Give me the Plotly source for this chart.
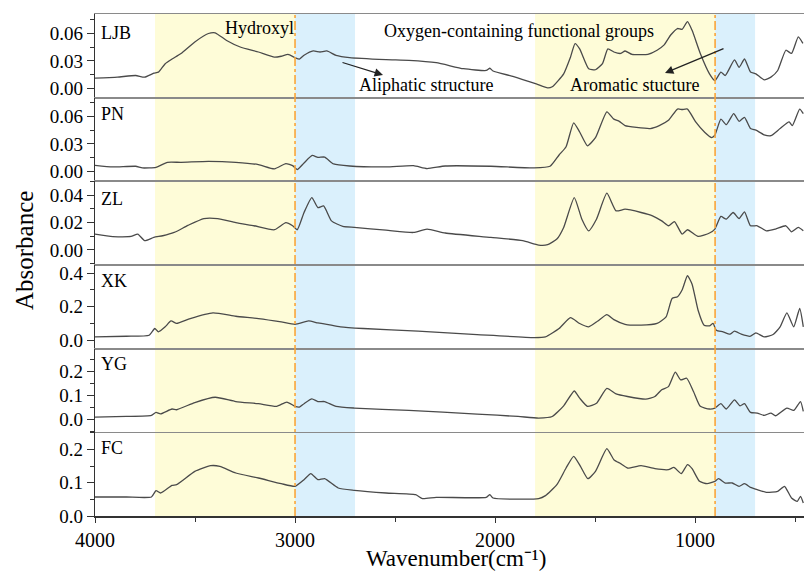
import plotly.graph_objects as go
from plotly.subplots import make_subplots

samples = ["LJB", "PN", "ZL", "XK", "YG", "FC"]

wn_LJB = [4002, 3888, 3797, 3752, 3706, 3683, 3649, 3615, 3570, 3501, 3433, 3399, 3342, 3274, 3183, 3103, 3069, 3035,
          3000, 2978, 2955, 2909, 2875, 2841, 2795, 2727, 2545, 2431, 2294, 2158, 2044, 2026, 2010, 1907, 1794, 1737,
          1714, 1657, 1623, 1600, 1577, 1532, 1498, 1463, 1436, 1406, 1372, 1350, 1315, 1270, 1236, 1190, 1156, 1122,
          1088, 1065, 1038, 1015, 974, 928, 901, 871, 849, 803, 780, 753, 723, 696, 655, 621, 587, 546, 518, 484, 461]
abs_LJB = [0.0113, 0.0124, 0.0142, 0.0124, 0.0167, 0.0178, 0.027, 0.032, 0.038, 0.0505, 0.0596, 0.0604, 0.052, 0.045,
           0.0396, 0.034, 0.035, 0.037, 0.0335, 0.032, 0.036, 0.0407, 0.0396, 0.0407, 0.036, 0.0335, 0.0313, 0.0305,
           0.028, 0.0215, 0.0196, 0.022, 0.019, 0.013, 0.005, 0.0007, 0.002, 0.016, 0.034, 0.0487, 0.043, 0.0215,
           0.0204, 0.027, 0.043, 0.0396, 0.038, 0.0407, 0.037, 0.0367, 0.037, 0.0415, 0.047, 0.058, 0.065, 0.064,
           0.0724, 0.063, 0.038, 0.016, 0.0087, 0.0178, 0.0142, 0.031, 0.023, 0.032, 0.018, 0.016, 0.0095, 0.0124,
           0.0196, 0.0415, 0.038, 0.056, 0.049]

wn_PN = [4002, 3911, 3797, 3763, 3695, 3638, 3570, 3433, 3296, 3183, 3103, 3046, 3012, 2989, 2955, 2914, 2886, 2852,
         2807, 2727, 2545, 2408, 2340, 2249, 2021, 1805, 1725, 1680, 1645, 1607, 1577, 1538, 1498, 1441, 1406, 1379,
         1350, 1293, 1224, 1179, 1133, 1088, 1065, 1038, 997, 951, 917, 901, 871, 844, 807, 780, 753, 723, 696, 655,
         621, 575, 530, 514, 477, 459]
abs_PN = [0.0068, 0.005, 0.0057, 0.0039, 0.0046, 0.010, 0.010, 0.011, 0.010, 0.0075, 0.0029, 0.0086, 0.0064, 0.0021,
          0.0093, 0.0175, 0.0154, 0.0157, 0.0082, 0.006, 0.005, 0.0064, 0.0032, 0.006, 0.0057, 0.0039, 0.0057, 0.018,
          0.027, 0.053, 0.043, 0.028, 0.0368, 0.065, 0.057, 0.0546, 0.050, 0.048, 0.0468, 0.050, 0.0557, 0.068,
          0.0675, 0.068, 0.054, 0.0425, 0.037, 0.0396, 0.057, 0.051, 0.063, 0.0546, 0.059, 0.0468, 0.045, 0.040,
          0.039, 0.0468, 0.054, 0.050, 0.068, 0.063]

wn_ZL = [4002, 3911, 3820, 3786, 3752, 3706, 3661, 3604, 3535, 3456, 3387, 3296, 3205, 3103, 3046, 3012, 2989, 2955,
         2916, 2886, 2857, 2818, 2761, 2704, 2545, 2408, 2340, 2249, 2021, 1862, 1782, 1737, 1691, 1657, 1604, 1566,
         1532, 1493, 1441, 1395, 1350, 1270, 1213, 1167, 1133, 1103, 1065, 1038, 985, 928, 901, 871, 844, 810, 780,
         753, 723, 689, 644, 598, 546, 518, 484, 459]
abs_ZL = [0.0116, 0.0097, 0.0099, 0.0116, 0.0068, 0.0092, 0.0104, 0.0128, 0.018, 0.023, 0.023, 0.020, 0.0177, 0.0148,
          0.020, 0.0177, 0.0148, 0.0274, 0.0383, 0.031, 0.0322, 0.0213, 0.0172, 0.0165, 0.0145, 0.0128, 0.0153,
          0.0124, 0.0092, 0.0068, 0.0036, 0.0039, 0.008, 0.0165, 0.0383, 0.0225, 0.014, 0.0225, 0.0415, 0.0286,
          0.0298, 0.0274, 0.025, 0.0213, 0.0177, 0.0208, 0.0116, 0.0148, 0.0099, 0.0124, 0.0153, 0.0245, 0.0225,
          0.0274, 0.023, 0.0279, 0.0177, 0.0177, 0.014, 0.0153, 0.0177, 0.0133, 0.0165, 0.014]

wn_XK = [4002, 3843, 3729, 3701, 3683, 3649, 3620, 3592, 3524, 3410, 3296, 3183, 3069, 3000, 2932, 2886, 2841, 2773,
         2659, 2385, 2090, 1805, 1748, 1680, 1623, 1577, 1532, 1486, 1441, 1406, 1350, 1270, 1190, 1145, 1115, 1088,
         1065, 1038, 1015, 985, 955, 928, 910, 894, 860, 826, 803, 769, 723, 696, 655, 610, 575, 541, 507, 477, 459]
abs_XK = [0.020, 0.024, 0.030, 0.070, 0.050, 0.080, 0.115, 0.100, 0.129, 0.163, 0.143, 0.129, 0.109, 0.095, 0.115,
          0.103, 0.095, 0.080, 0.070, 0.054, 0.034, 0.016, 0.020, 0.070, 0.135, 0.100, 0.080, 0.115, 0.153, 0.123,
          0.095, 0.090, 0.100, 0.139, 0.249, 0.259, 0.299, 0.384, 0.334, 0.179, 0.090, 0.086, 0.100, 0.060, 0.050,
          0.036, 0.054, 0.036, 0.024, 0.044, 0.020, 0.034, 0.080, 0.163, 0.080, 0.189, 0.080]

wn_YG = [4002, 3843, 3718, 3695, 3672, 3615, 3592, 3501, 3399, 3296, 3183, 3092, 3041, 3000, 2978, 2955, 2916, 2886,
         2852, 2795, 2704, 2431, 2090, 1885, 1782, 1714, 1657, 1604, 1577, 1538, 1493, 1441, 1395, 1338, 1247, 1201,
         1167, 1133, 1099, 1072, 1042, 1008, 974, 928, 901, 871, 844, 803, 775, 753, 723, 689, 655, 621, 598, 541,
         507, 473, 459]
abs_YG = [0.0096, 0.012, 0.0165, 0.029, 0.023, 0.043, 0.040, 0.070, 0.092, 0.074, 0.065, 0.054, 0.072, 0.054, 0.051,
          0.065, 0.085, 0.074, 0.074, 0.054, 0.047, 0.037, 0.022, 0.012, 0.0055, 0.012, 0.056, 0.118, 0.088, 0.054,
          0.067, 0.129, 0.106, 0.095, 0.084, 0.095, 0.123, 0.136, 0.196, 0.164, 0.171, 0.116, 0.054, 0.043, 0.047,
          0.065, 0.043, 0.081, 0.056, 0.065, 0.029, 0.026, 0.0165, 0.026, 0.015, 0.047, 0.037, 0.074, 0.033]

wn_FC = [4002, 3843, 3718, 3695, 3672, 3615, 3592, 3501, 3422, 3376, 3296, 3183, 3069, 3000, 2955, 2921, 2886, 2852,
         2784, 2704, 2545, 2397, 2363, 2294, 2044, 2026, 2010, 1782, 1748, 1691, 1645, 1607, 1573, 1536, 1498, 1441,
         1406, 1372, 1338, 1270, 1201, 1133, 1106, 1069, 1038, 1015, 978, 940, 901, 883, 849, 814, 780, 753, 723,
         689, 644, 587, 553, 518, 489, 473, 459]
abs_FC = [0.057, 0.057, 0.057, 0.076, 0.069, 0.092, 0.094, 0.134, 0.151, 0.149, 0.129, 0.114, 0.097, 0.089, 0.109,
          0.127, 0.109, 0.112, 0.084, 0.077, 0.069, 0.064, 0.052, 0.056, 0.056, 0.064, 0.054, 0.052, 0.061, 0.094,
          0.144, 0.179, 0.149, 0.112, 0.134, 0.202, 0.169, 0.157, 0.144, 0.151, 0.142, 0.139, 0.146, 0.127, 0.154,
          0.142, 0.104, 0.097, 0.104, 0.112, 0.099, 0.099, 0.089, 0.097, 0.086, 0.079, 0.071, 0.074, 0.089, 0.054,
          0.044, 0.059, 0.039]

series_wn = [wn_LJB, wn_PN, wn_ZL, wn_XK, wn_YG, wn_FC]
series_abs = [abs_LJB, abs_PN, abs_ZL, abs_XK, abs_YG, abs_FC]

y_ranges = [[-0.0098, 0.0807], [-0.0107, 0.0804], [-0.011, 0.0502], [-0.05, 0.448], [-0.054, 0.294], [0.0, 0.251]]
y_ticks = [[0.0, 0.03, 0.06], [0.0, 0.03, 0.06], [0.0, 0.02, 0.04], [0.0, 0.2, 0.4], [0.0, 0.1, 0.2], [0.0, 0.1, 0.2]]
y_minor = [0.015, 0.015, 0.01, 0.1, 0.05, 0.05]
y_fmt = [".2f", ".2f", ".2f", ".1f", ".1f", ".1f"]
label_y = [0.77, 0.81, 0.79, 0.81, 0.82, 0.81]

x_ticks = [4000, 3000, 2000, 1000]
yellow_bands = [[3700, 3000], [1800, 900]]
blue_bands = [[3000, 2700], [900, 700]]
divider_lines = [3000, 900]

FONT = "Liberation Serif"

fig = make_subplots(rows=6, cols=1, shared_xaxes=True, vertical_spacing=0)

for i, name in enumerate(samples):
    fig.add_trace(go.Scatter(x=series_wn[i], y=series_abs[i], mode="lines", name=name,
                             line=dict(color="#4a4a4a", width=1.3, shape="spline", smoothing=0.5),
                             showlegend=False), row=i + 1, col=1)
    fig.update_yaxes(range=y_ranges[i], tickvals=y_ticks[i], tickformat=y_fmt[i],
                     showline=True, linecolor="#333333", linewidth=1.3,
                     ticks="outside", ticklen=7, tickwidth=1.2, tickcolor="#333333",
                     minor=dict(dtick=y_minor[i], tick0=0, ticks="outside", ticklen=4, tickwidth=1, tickcolor="#333333"),
                     showgrid=False, zeroline=False,
                     tickfont=dict(family=FONT, size=19, color="black"),
                     row=i + 1, col=1)
    last = (i == len(samples) - 1)
    fig.update_xaxes(range=[4000, 455.5], showgrid=False, zeroline=False,
                     showline=True, linewidth=1.6 if last else 1.0,
                     linecolor="#333333" if last else "#8a8a8a",
                     mirror=not last,
                     ticks="outside" if last else "",
                     tickvals=x_ticks, ticklen=5, tickwidth=1.2, tickcolor="#333333",
                     showticklabels=last,
                     tickfont=dict(family=FONT, size=20, color="black"),
                     row=i + 1, col=1)
    if last:
        fig.update_xaxes(minor=dict(dtick=500, tick0=0, ticks="outside", ticklen=4, tickwidth=1, tickcolor="#333333"),
                         row=i + 1, col=1)
    yref = "y domain" if i == 0 else f"y{i + 1} domain"
    fig.add_annotation(text=name, xref="paper", yref=yref, x=0.006, y=label_y[i],
                       xanchor="left", yanchor="middle", showarrow=False,
                       font=dict(family=FONT, size=18, color="black"))

for x0, x1 in yellow_bands:
    fig.add_shape(type="rect", xref="x", yref="paper", x0=x0, x1=x1, y0=0, y1=1,
                  fillcolor="#FEFCD8", line=dict(width=0), layer="below")
for x0, x1 in blue_bands:
    fig.add_shape(type="rect", xref="x", yref="paper", x0=x0, x1=x1, y0=0, y1=1,
                  fillcolor="#DAF0FC", line=dict(width=0), layer="below")
for xv in divider_lines:
    fig.add_shape(type="line", xref="x", yref="paper", x0=xv, x1=xv, y0=0, y1=1,
                  line=dict(color="#F9A53A", width=1.6, dash="dashdot"), layer="above")

PLOT_W = 709.0
PLOT_H = 502.0


def px(xp):
    return (xp - 95) / PLOT_W


def py(yp):
    return (516 - yp) / PLOT_H


texts = [("Hydroxyl", 223, 28), ("Oxygen-containing functional groups", 382, 31),
         ("Aliphatic structure", 357, 85), ("Aromatic stucture", 568, 85)]
for t, xp, yp in texts:
    fig.add_annotation(text=t, xref="paper", yref="paper", x=px(xp), y=py(yp), xanchor="left",
                       yanchor="middle", showarrow=False, font=dict(family=FONT, size=18, color="black"))

arrows = [(383, 75, -42, -13), (665, 73, 60, -25)]
for hx, hy, axo, ayo in arrows:
    fig.add_annotation(text="", xref="paper", yref="paper", x=px(hx), y=py(hy), ax=axo, ay=ayo,
                       showarrow=True, arrowhead=2, arrowsize=1.4, arrowwidth=1.2, arrowcolor="#222222")

fig.add_annotation(text="Absorbance", xref="paper", yref="paper", x=px(24), y=py(251), textangle=-90,
                   showarrow=False, xanchor="center", yanchor="middle",
                   font=dict(family=FONT, size=25, color="black"))
fig.add_annotation(text="Wavenumber(cm\u207b\u00b9)", xref="paper", yref="paper", x=px(456), y=py(558),
                   showarrow=False, xanchor="center", yanchor="middle", borderpad=0,
                   font=dict(family=FONT, size=23, color="black"))

fig.update_layout(width=804, height=571, margin=dict(l=95, r=0, t=14, b=55),
                  plot_bgcolor="white", paper_bgcolor="white",
                  font=dict(family=FONT, color="black"))

fig.write_html("out.html")
